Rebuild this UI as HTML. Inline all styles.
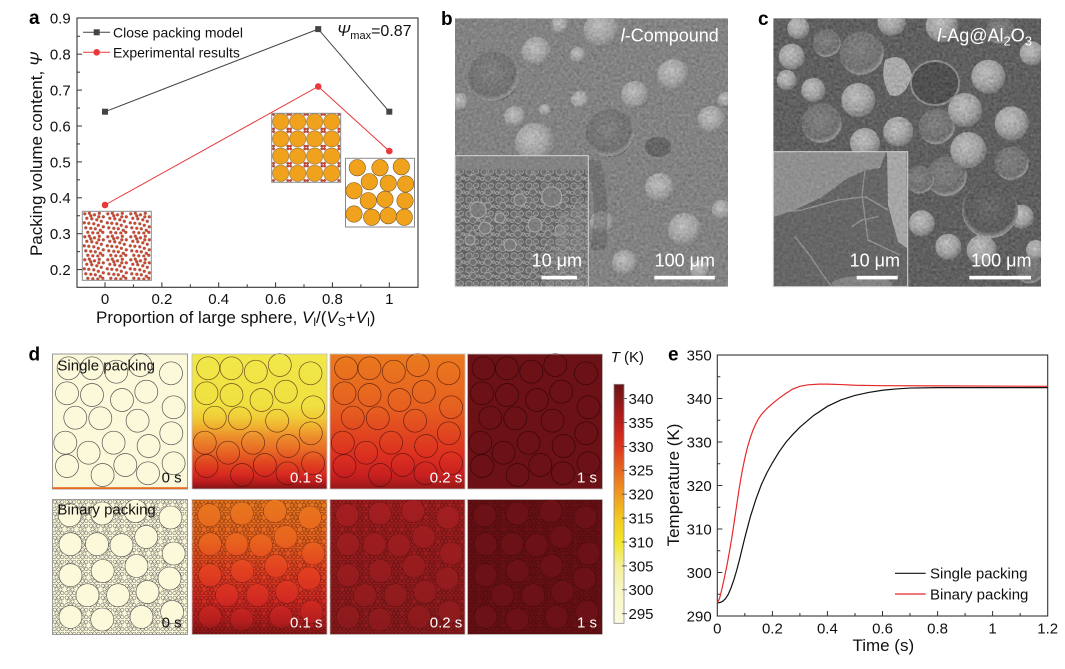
<!DOCTYPE html>
<html><head><meta charset="utf-8">
<style>
html,body{margin:0;padding:0;background:#fff;}
svg{display:block;}
text{font-family:"Liberation Sans",Arial,sans-serif;}
</style></head><body>
<svg width="1065" height="669" viewBox="0 0 1065 669" xmlns="http://www.w3.org/2000/svg">
<defs>
  <pattern id="rnd" patternUnits="userSpaceOnUse" x="82.3" y="211.3" width="23" height="23">
    <g fill="#d9472b" stroke="#7a2a1a" stroke-width="0.4">
      <circle cx="2.5" cy="2.5" r="1.4"/><circle cx="7" cy="1.8" r="1.4"/><circle cx="12.2" cy="3.5" r="1.4"/><circle cx="17" cy="2" r="1.4"/>
      <circle cx="21" cy="5.5" r="1.4"/><circle cx="4.5" cy="7" r="1.4"/><circle cx="9.5" cy="7.5" r="1.4"/><circle cx="14.5" cy="8.5" r="1.4"/>
      <circle cx="19" cy="10" r="1.4"/><circle cx="2" cy="11.5" r="1.4"/><circle cx="6.5" cy="12" r="1.4"/><circle cx="11.5" cy="12.5" r="1.4"/>
      <circle cx="16" cy="14" r="1.4"/><circle cx="21" cy="15.5" r="1.4"/><circle cx="3.5" cy="16.5" r="1.4"/><circle cx="8.5" cy="17" r="1.4"/>
      <circle cx="13" cy="17.5" r="1.4"/><circle cx="18" cy="19" r="1.4"/><circle cx="5.5" cy="21" r="1.4"/><circle cx="10.5" cy="21.5" r="1.4"/>
      <circle cx="15.5" cy="21.8" r="1.4"/><circle cx="20.5" cy="21" r="1.4"/><circle cx="16.5" cy="5.5" r="1.4"/><circle cx="8.5" cy="4.5" r="1.4"/>
    </g>
  </pattern>
  <pattern id="bin" patternUnits="userSpaceOnUse" x="272.2" y="113.1" width="17" height="17.2">
    <circle cx="8.5" cy="8.6" r="8.1" fill="#f1a21d" stroke="#7a5a2a" stroke-width="0.5"/>
    <g fill="#e0381e" stroke="#6a1a10" stroke-width="0.35">
      <circle cx="1.4" cy="1.4" r="1.2"/><circle cx="15.6" cy="1.4" r="1.2"/><circle cx="1.4" cy="15.8" r="1.2"/><circle cx="15.6" cy="15.8" r="1.2"/>
    </g>
  </pattern>

  <g id="sg">
    <circle cx="16.1" cy="14.3" r="11.5"/><circle cx="39.5" cy="14.3" r="11.5"/><circle cx="63.8" cy="17.7" r="11.5"/><circle cx="87.8" cy="11" r="11.5"/><circle cx="118.5" cy="19.3" r="11.5"/>
    <circle cx="14.5" cy="39.3" r="11.5"/><circle cx="39.5" cy="41" r="11.5"/><circle cx="69.5" cy="46" r="11.5"/><circle cx="93.8" cy="37.7" r="11.5"/><circle cx="121.1" cy="53.3" r="11.5"/>
    <circle cx="22.8" cy="63.7" r="11.5"/><circle cx="47.8" cy="64.3" r="11.5"/><circle cx="85.1" cy="66.7" r="11.5"/><circle cx="118.8" cy="79.3" r="11.5"/>
    <circle cx="12.8" cy="88.7" r="11.5"/><circle cx="36.1" cy="98.7" r="11.5"/><circle cx="61.1" cy="88.7" r="11.5"/><circle cx="96.1" cy="92" r="11.5"/>
    <circle cx="14.5" cy="112" r="11.5"/><circle cx="50.1" cy="121" r="11.5"/><circle cx="72.8" cy="111" r="11.5"/><circle cx="95.5" cy="119.3" r="11.5"/><circle cx="121.1" cy="109.3" r="11.5"/>
  </g>
  <g id="bn">
    <circle cx="17.2" cy="15.7" r="11.5"/><circle cx="49.8" cy="14" r="11.5"/><circle cx="83" cy="11.5" r="11.5"/><circle cx="118" cy="18" r="11.5"/>
    <circle cx="18" cy="44.7" r="11.5"/><circle cx="44.5" cy="44.7" r="11.5"/><circle cx="69" cy="45.7" r="11.5"/><circle cx="93.7" cy="37.4" r="11.5"/><circle cx="121.2" cy="54" r="11.5"/>
    <circle cx="18" cy="75.7" r="11.5"/><circle cx="50.2" cy="71.5" r="11.5"/><circle cx="84" cy="66.5" r="11.5"/><circle cx="117" cy="79" r="11.5"/>
    <circle cx="35" cy="95.7" r="11.5"/><circle cx="65.6" cy="95.7" r="11.5"/><circle cx="95" cy="92.4" r="11.5"/>
    <circle cx="18" cy="117.4" r="11.5"/><circle cx="49.7" cy="120" r="11.5"/><circle cx="89" cy="117.4" r="11.5"/><circle cx="119.6" cy="112.4" r="11.5"/>
  </g>
  <pattern id="txD" patternUnits="userSpaceOnUse" width="12" height="12">
    <g fill="none" stroke="#5a5a5a" stroke-width="0.5">
      <circle cx="2.2" cy="2.2" r="1.7"/><circle cx="6" cy="2" r="1.7"/><circle cx="9.8" cy="2.4" r="1.7"/><circle cx="4" cy="5.8" r="1.7"/>
      <circle cx="8" cy="6" r="1.7"/><circle cx="2" cy="9.6" r="1.7"/><circle cx="6" cy="9.8" r="1.7"/><circle cx="9.8" cy="9.6" r="1.7"/>
    </g>
  </pattern>
  <pattern id="txR" patternUnits="userSpaceOnUse" width="12" height="12">
    <g fill="none" stroke="#2a0404" stroke-opacity="0.6" stroke-width="0.5">
      <circle cx="2.2" cy="2.2" r="1.7"/><circle cx="6" cy="2" r="1.7"/><circle cx="9.8" cy="2.4" r="1.7"/><circle cx="4" cy="5.8" r="1.7"/>
      <circle cx="8" cy="6" r="1.7"/><circle cx="2" cy="9.6" r="1.7"/><circle cx="6" cy="9.8" r="1.7"/><circle cx="9.8" cy="9.6" r="1.7"/>
    </g>
  </pattern>

  <linearGradient id="gs01" gradientUnits="userSpaceOnUse" x1="0" y1="0" x2="0" y2="135">
    <stop offset="0" stop-color="#f0e84a"/><stop offset="0.38" stop-color="#f0e040"/><stop offset="0.47" stop-color="#f0cc38"/>
    <stop offset="0.54" stop-color="#f0b030"/><stop offset="0.62" stop-color="#ec8a2c"/><stop offset="0.72" stop-color="#e86824"/>
    <stop offset="0.81" stop-color="#e04420"/><stop offset="0.89" stop-color="#d82a20"/><stop offset="0.95" stop-color="#b81c1c"/><stop offset="1" stop-color="#801414"/>
  </linearGradient>
  <linearGradient id="gs02" gradientUnits="userSpaceOnUse" x1="0" y1="0" x2="0" y2="135">
    <stop offset="0" stop-color="#ea7a1e"/><stop offset="0.4" stop-color="#e66020"/><stop offset="0.6" stop-color="#e04420"/>
    <stop offset="0.75" stop-color="#dc3020"/><stop offset="0.9" stop-color="#c82020"/><stop offset="1" stop-color="#961818"/>
  </linearGradient>
  <linearGradient id="gb01" gradientUnits="userSpaceOnUse" x1="0" y1="0" x2="0" y2="135">
    <stop offset="0" stop-color="#e8781e"/><stop offset="0.3" stop-color="#e8641e"/><stop offset="0.52" stop-color="#e24020"/>
    <stop offset="0.74" stop-color="#d22a22"/><stop offset="0.9" stop-color="#b41e1e"/><stop offset="1" stop-color="#8a1616"/>
  </linearGradient>
  <linearGradient id="gb02" gradientUnits="userSpaceOnUse" x1="0" y1="0" x2="0" y2="135">
    <stop offset="0" stop-color="#a41e20"/><stop offset="1" stop-color="#8a1a1c"/>
  </linearGradient>
  <linearGradient id="gcb" x1="0" y1="0" x2="0" y2="1">
    <stop offset="0" stop-color="#6c1216"/><stop offset="0.06" stop-color="#881818"/><stop offset="0.16" stop-color="#bc1e1e"/>
    <stop offset="0.26" stop-color="#dc3620"/><stop offset="0.36" stop-color="#e86820"/><stop offset="0.46" stop-color="#f09a20"/>
    <stop offset="0.56" stop-color="#f2c822"/><stop offset="0.66" stop-color="#f0e62a"/><stop offset="0.76" stop-color="#f4f09a"/>
    <stop offset="0.86" stop-color="#f8f6c4"/><stop offset="1" stop-color="#fcfade"/>
  </linearGradient>

  <radialGradient id="sL" cx="0.42" cy="0.38" r="0.62">
    <stop offset="0" stop-color="#cacaca"/><stop offset="0.65" stop-color="#a8a8a8"/><stop offset="1" stop-color="#7a7a7a"/>
  </radialGradient>
  <radialGradient id="sM" cx="0.45" cy="0.4" r="0.6">
    <stop offset="0" stop-color="#828282"/><stop offset="0.8" stop-color="#6e6e6e"/><stop offset="0.95" stop-color="#9e9e9e"/><stop offset="1" stop-color="#5e5e5e"/>
  </radialGradient>
  <radialGradient id="sS" cx="0.5" cy="0.45" r="0.55">
    <stop offset="0" stop-color="#666"/><stop offset="0.8" stop-color="#555"/><stop offset="0.95" stop-color="#949494"/><stop offset="1" stop-color="#bababa"/>
  </radialGradient>
  <filter id="nz" x="0" y="0" width="100%" height="100%" color-interpolation-filters="sRGB">
    <feTurbulence type="fractalNoise" baseFrequency="0.35" numOctaves="2" seed="4" result="t"/>
    <feColorMatrix in="t" type="matrix" values="0.33 0.33 0.33 0 0  0.33 0.33 0.33 0 0  0.33 0.33 0.33 0 0  0 0 0 0 1"/>
    <feComponentTransfer>
      <feFuncR type="linear" slope="2" intercept="-0.5"/>
      <feFuncG type="linear" slope="2" intercept="-0.5"/>
      <feFuncB type="linear" slope="2" intercept="-0.5"/>
    </feComponentTransfer>
  </filter>
  <pattern id="cell" patternUnits="userSpaceOnUse" width="15" height="14">
    <rect width="15" height="14" fill="#626262"/>
    <g fill="#707070" stroke="#a4a4a4" stroke-width="0.9">
      <circle cx="4" cy="4" r="3.2"/><circle cx="11" cy="3.5" r="2.5"/><circle cx="8" cy="10" r="3.5"/><circle cx="2" cy="11" r="1.6"/><circle cx="13.5" cy="10" r="1.3"/>
    </g>
  </pattern>
  <clipPath id="cpB"><rect x="455" y="18.3" width="273" height="268.4"/></clipPath>
  <clipPath id="cpC"><rect x="773.3" y="18.3" width="267.7" height="268.4"/></clipPath>
  <clipPath id="cpBi"><rect x="455" y="155.7" width="133.3" height="131"/></clipPath>
  <clipPath id="cpCi"><rect x="773.3" y="151.7" width="134.4" height="135"/></clipPath>
</defs>

<rect width="1065" height="669" fill="#fff"/>

<!-- ================= PANEL A ================= -->
<text x="29" y="24" font-size="19" font-weight="bold">a</text>
<rect x="82.3" y="211.3" width="69" height="69" fill="#fff"/>
<rect x="82.3" y="211.3" width="69" height="69" fill="url(#rnd)" stroke="#8a8a8a" stroke-width="1"/>
<rect x="271.7" y="113.3" width="69" height="69" fill="#fff"/>
<rect x="271.7" y="113.3" width="69" height="69" fill="url(#bin)" stroke="#8a8a8a" stroke-width="1"/>
<rect x="345.5" y="158.3" width="69" height="68.7" fill="#fff" stroke="#8a8a8a" stroke-width="1"/>
<g fill="#f1a21d" stroke="#7a5a2a" stroke-width="0.6">
  <circle cx="357.3" cy="167.7" r="8.2"/><circle cx="380" cy="167.7" r="8.2"/><circle cx="401.3" cy="166.7" r="8.2"/>
  <circle cx="369.3" cy="181.7" r="8.2"/><circle cx="388.3" cy="183.3" r="8.2"/><circle cx="405.7" cy="184" r="8.2"/>
  <circle cx="354" cy="190.7" r="8.2"/><circle cx="368.3" cy="200.7" r="8.2"/><circle cx="385" cy="199.3" r="8.2"/><circle cx="405" cy="200.7" r="8.2"/>
  <circle cx="354" cy="214" r="8.2"/><circle cx="371.7" cy="217.3" r="8.2"/><circle cx="388.3" cy="215.7" r="8.2"/><circle cx="404.3" cy="217.3" r="8.2"/>
</g>
<rect x="77" y="18" width="341" height="269.3" fill="none" stroke="#333" stroke-width="1.1"/>
<g stroke="#333" stroke-width="1">
  <line x1="77" y1="269.6" x2="82" y2="269.6"/><line x1="77" y1="233.7" x2="82" y2="233.7"/><line x1="77" y1="197.8" x2="82" y2="197.8"/>
  <line x1="77" y1="161.9" x2="82" y2="161.9"/><line x1="77" y1="126" x2="82" y2="126"/><line x1="77" y1="90.1" x2="82" y2="90.1"/>
  <line x1="77" y1="54.2" x2="82" y2="54.2"/>
  <line x1="77" y1="251.65" x2="80" y2="251.65"/><line x1="77" y1="215.75" x2="80" y2="215.75"/><line x1="77" y1="179.85" x2="80" y2="179.85"/>
  <line x1="77" y1="143.95" x2="80" y2="143.95"/><line x1="77" y1="108.05" x2="80" y2="108.05"/><line x1="77" y1="72.15" x2="80" y2="72.15"/>
  <line x1="77" y1="36.25" x2="80" y2="36.25"/>
  <line x1="105" y1="287.3" x2="105" y2="282.3"/><line x1="161.9" y1="287.3" x2="161.9" y2="282.3"/><line x1="218.7" y1="287.3" x2="218.7" y2="282.3"/>
  <line x1="275.6" y1="287.3" x2="275.6" y2="282.3"/><line x1="332.4" y1="287.3" x2="332.4" y2="282.3"/><line x1="389.3" y1="287.3" x2="389.3" y2="282.3"/>
  <line x1="133.4" y1="287.3" x2="133.4" y2="284.3"/><line x1="190.3" y1="287.3" x2="190.3" y2="284.3"/><line x1="247.2" y1="287.3" x2="247.2" y2="284.3"/>
  <line x1="304" y1="287.3" x2="304" y2="284.3"/><line x1="360.9" y1="287.3" x2="360.9" y2="284.3"/>
</g>
<g font-size="15" fill="#111" text-anchor="end">
  <text x="70.7" y="23.7">0.9</text><text x="70.7" y="59.6">0.8</text><text x="70.7" y="95.5">0.7</text><text x="70.7" y="131.4">0.6</text>
  <text x="70.7" y="167.3">0.5</text><text x="70.7" y="203.2">0.4</text><text x="70.7" y="239.1">0.3</text><text x="70.7" y="275">0.2</text>
</g>
<g font-size="15" fill="#111" text-anchor="middle">
  <text x="105" y="304">0</text><text x="161.9" y="304">0.2</text><text x="218.7" y="304">0.4</text><text x="275.6" y="304">0.6</text>
  <text x="332.4" y="304">0.8</text><text x="389.3" y="304">1</text>
</g>
<text transform="translate(42,154) rotate(-90)" text-anchor="middle" font-size="17" fill="#111">Packing volume content, <tspan font-style="italic">Ψ</tspan></text>
<text x="96" y="323" font-size="17" fill="#111">Proportion of large sphere, <tspan font-style="italic">V</tspan><tspan font-size="12" dy="3">l</tspan><tspan dy="-3">/(</tspan><tspan font-style="italic">V</tspan><tspan font-size="12" dy="3">S</tspan><tspan dy="-3">+</tspan><tspan font-style="italic">V</tspan><tspan font-size="12" dy="3">l</tspan><tspan dy="-3">)</tspan></text>
<polyline points="105,111.7 318.2,29.1 389.3,111.7" fill="none" stroke="#444" stroke-width="1"/>
<polyline points="105,205 318.2,86.5 389.3,151.1" fill="none" stroke="#e8383a" stroke-width="1"/>
<g fill="#444"><rect x="102" y="108.7" width="6" height="6"/><rect x="315.2" y="26.1" width="6" height="6"/><rect x="386.3" y="108.7" width="6" height="6"/></g>
<g fill="#e8383a"><circle cx="105" cy="205" r="3.3"/><circle cx="318.2" cy="86.5" r="3.3"/><circle cx="389.3" cy="151.1" r="3.3"/></g>
<line x1="83" y1="32.3" x2="110" y2="32.3" stroke="#444" stroke-width="1"/><rect x="93.7" y="29.3" width="6" height="6" fill="#444"/>
<text x="113" y="37.3" font-size="14" fill="#111">Close packing model</text>
<line x1="83" y1="52.3" x2="110" y2="52.3" stroke="#e8383a" stroke-width="1"/><circle cx="96.7" cy="52.3" r="3.3" fill="#e8383a"/>
<text x="113" y="57.3" font-size="14" fill="#111">Experimental results</text>
<text x="337" y="36" font-size="16" fill="#111"><tspan font-style="italic">Ψ</tspan><tspan font-size="11" dy="3">max</tspan><tspan dy="-3">=0.87</tspan></text>

<!-- ================= PANEL B ================= -->
<text x="441" y="25" font-size="19" font-weight="bold">b</text>
<g clip-path="url(#cpB)">
  <rect x="455" y="18.3" width="273" height="268.4" fill="#848484"/>
  <g fill="url(#sL)">
    <circle cx="536.7" cy="51.7" r="15"/><circle cx="601.7" cy="30" r="18"/><circle cx="560" cy="25" r="9"/><circle cx="578" cy="55" r="8"/>
    <circle cx="673.3" cy="75" r="16"/><circle cx="635" cy="95" r="14"/><circle cx="580" cy="100" r="9"/><circle cx="711.7" cy="120" r="14"/>
    <circle cx="535" cy="143" r="20"/><circle cx="515" cy="117" r="11"/><circle cx="660" cy="188" r="15"/><circle cx="685" cy="230" r="17"/>
    <circle cx="721.7" cy="210" r="10"/><circle cx="601.7" cy="223" r="12"/><circle cx="625" cy="263" r="13"/><circle cx="460" cy="102" r="9"/>
    <circle cx="545" cy="110" r="6"/><circle cx="726" cy="100" r="8"/><circle cx="700" cy="270" r="10"/>
  </g>
  <g fill="url(#sM)"><circle cx="493.3" cy="76.7" r="25"/><circle cx="610" cy="133" r="24"/></g>
  <ellipse cx="658" cy="147" rx="13" ry="10" fill="#4a4a4a" opacity="0.6"/>
  <path d="M585,160 Q600,200 590,250 L605,250 Q612,200 600,160 Z" fill="#5a5a5a" opacity="0.5"/>
  <rect x="455" y="18.3" width="273" height="268.4" fill="#000" filter="url(#nz)" opacity="0.18"/>
</g>
<g clip-path="url(#cpBi)">
  <rect x="455" y="155.7" width="133.3" height="131" fill="url(#cell)"/>
  <rect x="455" y="155.7" width="133.3" height="14" fill="#858585"/>
  <g fill="#7e7e7e" stroke="#b0b0b0" stroke-width="1">
    <circle cx="551.7" cy="196.7" r="10"/><circle cx="478" cy="210" r="8"/><circle cx="485" cy="228" r="6"/><circle cx="500" cy="218" r="5"/>
    <circle cx="520" cy="200" r="6"/><circle cx="535" cy="225" r="7"/><circle cx="470" cy="240" r="5"/><circle cx="510" cy="245" r="6"/><circle cx="560" cy="230" r="5"/>
  </g>
  <path d="M560,215 L588,200 L588,286 L545,286 Z" fill="#9a9a9a" opacity="0.3"/>
  <rect x="455" y="155.7" width="133.3" height="131" fill="#000" filter="url(#nz)" opacity="0.12"/>
</g>
<rect x="455" y="155.7" width="133.3" height="131" fill="none" stroke="#d8d8d8" stroke-width="1"/>
<text x="718.8" y="41.7" font-size="18" fill="#fff" text-anchor="end"><tspan font-style="italic">l</tspan>-Compound</text>
<text x="582" y="266.7" font-size="18" fill="#fff" text-anchor="end">10 μm</text>
<rect x="541.5" y="275.8" width="35.5" height="3.6" fill="#fff"/>
<text x="715" y="266.7" font-size="18" fill="#fff" text-anchor="end">100 μm</text>
<rect x="654.3" y="275.8" width="60.5" height="3.6" fill="#fff"/>

<!-- ================= PANEL C ================= -->
<text x="758" y="25" font-size="19" font-weight="bold">c</text>
<g clip-path="url(#cpC)">
  <rect x="773.3" y="18.3" width="267.7" height="268.4" fill="#595959"/>
  <g fill="url(#sM)">
    <circle cx="861.7" cy="53.3" r="22"/><circle cx="826.7" cy="43.3" r="14"/><circle cx="821.7" cy="123.3" r="20"/><circle cx="936.7" cy="126.7" r="18"/>
    <circle cx="946.7" cy="176.7" r="20"/><circle cx="1011.7" cy="163.3" r="17"/><circle cx="920" cy="180" r="14"/><circle cx="1000" cy="30" r="14"/>
    <circle cx="1030" cy="270" r="14"/>
  </g>
  <g fill="url(#sL)">
    <circle cx="791.7" cy="56.7" r="13"/><circle cx="798.3" cy="28" r="11"/><circle cx="891.7" cy="22" r="14"/><circle cx="858.3" cy="100" r="17"/>
    <circle cx="813.3" cy="90" r="12"/><circle cx="898.3" cy="131.7" r="15"/><circle cx="865" cy="143" r="15"/><circle cx="965" cy="110" r="17"/>
    <circle cx="1011.7" cy="123.3" r="17"/><circle cx="968.3" cy="150" r="18"/><circle cx="988.3" cy="76.7" r="17"/><circle cx="1031.7" cy="53.3" r="12"/>
    <circle cx="941.7" cy="26" r="16"/><circle cx="948.3" cy="246.7" r="13"/><circle cx="981.7" cy="250" r="15"/><circle cx="1021.7" cy="216.7" r="12"/>
    <circle cx="921.7" cy="223.3" r="13"/><circle cx="786.7" cy="80" r="10"/><circle cx="1036" cy="250" r="10"/>
  </g>
  <ellipse cx="935" cy="83" rx="24" ry="22" fill="#474747" stroke="#8e8e8e" stroke-width="2"/>
  <path d="M885,60 Q905,50 912,75 Q905,100 890,95 Q880,80 885,60 Z" fill="#b4b4b4"/>
  <circle cx="990" cy="210" r="28" fill="url(#sS)"/>
  <rect x="773.3" y="18.3" width="267.7" height="268.4" fill="#000" filter="url(#nz)" opacity="0.18"/>
</g>
<g clip-path="url(#cpCi)">
  <rect x="773.3" y="151.7" width="134.4" height="135" fill="#646464"/>
  <polygon points="773.3,151.7 886,151.7 880,168 866,170 848,178 822,197 795,210 773.3,217" fill="#929292"/>
  <polygon points="887,151.7 906.7,151.7 907,248 898,242 888,205" fill="#acacac"/>
  <ellipse cx="862" cy="284" rx="30" ry="8" fill="#858585"/>
  <g fill="none" stroke="#969696" stroke-width="1.3">
    <polyline points="775,213 801.7,210 838.3,200 865,196.7 888.3,210"/>
    <polyline points="795,236.7 808,253 821.7,273 831.7,286.7"/>
    <polyline points="851.7,226.7 861.7,220 878.3,216.7"/>
    <polyline points="865,170 862,195 868,240 900,255"/>
  </g>
  <rect x="773.3" y="151.7" width="134.4" height="135" fill="#000" filter="url(#nz)" opacity="0.12"/>
</g>
<rect x="773.3" y="151.7" width="134.4" height="135" fill="none" stroke="#d8d8d8" stroke-width="1"/>
<text x="1032" y="41.7" font-size="18" fill="#fff" text-anchor="end"><tspan font-style="italic">l</tspan>-Ag@Al<tspan font-size="13" dy="4">2</tspan><tspan dy="-4">O</tspan><tspan font-size="13" dy="4">3</tspan></text>
<text x="900" y="266.7" font-size="18" fill="#fff" text-anchor="end">10 μm</text>
<rect x="856.7" y="275.8" width="41" height="3.6" fill="#fff"/>
<text x="1031.5" y="266.7" font-size="18" fill="#fff" text-anchor="end">100 μm</text>
<rect x="969.3" y="275.8" width="61.7" height="3.6" fill="#fff"/>

<!-- ================= PANEL D ================= -->
<text x="28.5" y="360.7" font-size="19" font-weight="bold">d</text>
<g transform="translate(52.5,354)">
  <rect width="135" height="135" fill="#fbf9da" stroke="#9a9a9a" stroke-width="1"/>
  <use href="#sg" fill="none" stroke="#555" stroke-width="0.7"/>
  <rect x="0" y="133.2" width="135" height="1.8" fill="#e86a20"/>
</g>
<g transform="translate(192,354)">
  <rect width="135" height="135" fill="url(#gs01)"/>
  <use href="#sg" fill="none" stroke="#3a1010" stroke-opacity="0.7" stroke-width="0.7"/>
  <rect width="135" height="135" fill="none" stroke="#c0c0c0" stroke-width="0.8"/>
</g>
<g transform="translate(330,354)">
  <rect width="135" height="135" fill="url(#gs02)"/>
  <use href="#sg" fill="none" stroke="#3a0a0a" stroke-opacity="0.7" stroke-width="0.7"/>
  <rect width="135" height="135" fill="none" stroke="#c0c0c0" stroke-width="0.8"/>
</g>
<g transform="translate(467.5,354)">
  <rect width="135" height="135" fill="#6c1116"/>
  <use href="#sg" fill="none" stroke="#2a0406" stroke-opacity="0.8" stroke-width="0.7"/>
  <rect width="135" height="135" fill="none" stroke="#c0c0c0" stroke-width="0.8"/>
</g>
<g transform="translate(52.5,499.5)">
  <rect width="135" height="135" fill="#fbf9da"/>
  <rect width="135" height="135" fill="url(#txD)"/>
  <use href="#bn" fill="#fbf9da" stroke="#555" stroke-width="0.6"/>
  <rect width="135" height="135" fill="none" stroke="#9a9a9a" stroke-width="1"/>
</g>
<g transform="translate(192,499.5)">
  <rect width="135" height="135" fill="url(#gb01)"/>
  <rect width="135" height="135" fill="url(#txR)"/>
  <use href="#bn" fill="url(#gb01)" stroke="#3a0a0a" stroke-opacity="0.5" stroke-width="0.5"/>
  <rect width="135" height="135" fill="none" stroke="#c0c0c0" stroke-width="0.8"/>
</g>
<g transform="translate(330,499.5)">
  <rect width="135" height="135" fill="url(#gb02)"/>
  <rect width="135" height="135" fill="url(#txR)"/>
  <use href="#bn" fill="url(#gb02)" stroke="#3a0a0a" stroke-opacity="0.5" stroke-width="0.5"/>
  <rect width="135" height="135" fill="none" stroke="#c0c0c0" stroke-width="0.8"/>
</g>
<g transform="translate(467.5,499.5)">
  <rect width="135" height="135" fill="#6a1014"/>
  <rect width="135" height="135" fill="url(#txR)"/>
  <use href="#bn" fill="#6c1116" stroke="#2a0406" stroke-opacity="0.5" stroke-width="0.5"/>
  <rect width="135" height="135" fill="none" stroke="#c0c0c0" stroke-width="0.8"/>
</g>
<g font-size="15">
  <text x="57.4" y="370.3" fill="#111">Single packing</text>
  <text x="57.4" y="514.6" fill="#111">Binary packing</text>
  <text x="181.6" y="482.6" fill="#111" text-anchor="end">0 s</text>
  <text x="322.5" y="482.6" fill="#fff" text-anchor="end">0.1 s</text>
  <text x="462.3" y="482.6" fill="#fff" text-anchor="end">0.2 s</text>
  <text x="597" y="482.6" fill="#fff" text-anchor="end">1 s</text>
  <text x="181.6" y="627.6" fill="#111" text-anchor="end">0 s</text>
  <text x="322.5" y="627.6" fill="#fff" text-anchor="end">0.1 s</text>
  <text x="462.3" y="627.6" fill="#fff" text-anchor="end">0.2 s</text>
  <text x="597" y="627.6" fill="#fff" text-anchor="end">1 s</text>
</g>
<text x="610.7" y="362" font-size="15" fill="#111"><tspan font-style="italic">T</tspan> (K)</text>
<rect x="614" y="384.3" width="10" height="239" fill="url(#gcb)" stroke="#8a8a8a" stroke-width="0.8"/>
<g stroke="#444" stroke-width="0.8">
  <line x1="622" y1="398.6" x2="627" y2="398.6"/><line x1="622" y1="422.5" x2="627" y2="422.5"/><line x1="622" y1="446.4" x2="627" y2="446.4"/>
  <line x1="622" y1="470.3" x2="627" y2="470.3"/><line x1="622" y1="494.2" x2="627" y2="494.2"/><line x1="622" y1="518.1" x2="627" y2="518.1"/>
  <line x1="622" y1="542" x2="627" y2="542"/><line x1="622" y1="565.9" x2="627" y2="565.9"/><line x1="622" y1="589.8" x2="627" y2="589.8"/>
  <line x1="622" y1="613.7" x2="627" y2="613.7"/>
</g>
<g font-size="15" fill="#111">
  <text x="628.5" y="404">340</text><text x="628.5" y="427.9">335</text><text x="628.5" y="451.8">330</text><text x="628.5" y="475.7">325</text>
  <text x="628.5" y="499.6">320</text><text x="628.5" y="523.5">315</text><text x="628.5" y="547.4">310</text><text x="628.5" y="571.3">305</text>
  <text x="628.5" y="595.2">300</text><text x="628.5" y="619.1">295</text>
</g>

<!-- ================= PANEL E ================= -->
<text x="668" y="360.5" font-size="19" font-weight="bold">e</text>
<rect x="717.3" y="355" width="330.4" height="261" fill="none" stroke="#333" stroke-width="1.1"/>
<g stroke="#333" stroke-width="1">
  <line x1="717.3" y1="572.5" x2="722.3" y2="572.5"/><line x1="717.3" y1="529" x2="722.3" y2="529"/><line x1="717.3" y1="485.5" x2="722.3" y2="485.5"/>
  <line x1="717.3" y1="442" x2="722.3" y2="442"/><line x1="717.3" y1="398.5" x2="722.3" y2="398.5"/>
  <line x1="717.3" y1="594.25" x2="720.3" y2="594.25"/><line x1="717.3" y1="550.75" x2="720.3" y2="550.75"/><line x1="717.3" y1="507.25" x2="720.3" y2="507.25"/>
  <line x1="717.3" y1="463.75" x2="720.3" y2="463.75"/><line x1="717.3" y1="420.25" x2="720.3" y2="420.25"/><line x1="717.3" y1="376.75" x2="720.3" y2="376.75"/>
  <line x1="772.4" y1="616" x2="772.4" y2="611"/><line x1="827.4" y1="616" x2="827.4" y2="611"/><line x1="882.5" y1="616" x2="882.5" y2="611"/>
  <line x1="937.6" y1="616" x2="937.6" y2="611"/><line x1="992.6" y1="616" x2="992.6" y2="611"/>
  <line x1="744.8" y1="616" x2="744.8" y2="613"/><line x1="799.9" y1="616" x2="799.9" y2="613"/><line x1="855" y1="616" x2="855" y2="613"/>
  <line x1="910" y1="616" x2="910" y2="613"/><line x1="965.1" y1="616" x2="965.1" y2="613"/><line x1="1020.2" y1="616" x2="1020.2" y2="613"/>
</g>
<g font-size="15" fill="#111" text-anchor="end">
  <text x="711.7" y="360.3">350</text><text x="711.7" y="403.8">340</text><text x="711.7" y="447.3">330</text><text x="711.7" y="490.8">320</text>
  <text x="711.7" y="534.3">310</text><text x="711.7" y="577.8">300</text><text x="711.7" y="621.3">290</text>
</g>
<g font-size="15" fill="#111" text-anchor="middle">
  <text x="717.3" y="633.5">0</text><text x="772.4" y="633.5">0.2</text><text x="827.4" y="633.5">0.4</text><text x="882.5" y="633.5">0.6</text>
  <text x="937.6" y="633.5">0.8</text><text x="992.6" y="633.5">1</text><text x="1047.7" y="633.5">1.2</text>
</g>
<text x="883.3" y="651" font-size="17" fill="#111" text-anchor="middle">Time (s)</text>
<text transform="translate(679,485) rotate(-90)" font-size="17" fill="#111" text-anchor="middle">Temperature (K)</text>
<g transform="translate(717.3,616) scale(275.33,-4.35) translate(0,-290)">
  <polyline vector-effect="non-scaling-stroke" fill="none" stroke="#111" stroke-width="1.2"
    points="0,293 0.01,293.1 0.02,293.4 0.03,294 0.04,295 0.05,296.5 0.06,298.3 0.07,300.4 0.08,302.8 0.09,305.4 0.1,308 0.12,312.8 0.14,316.8 0.16,320.2 0.18,322.9 0.2,325.2 0.225,327.8 0.25,330 0.275,331.8 0.3,333.4 0.35,336.1 0.4,338.2 0.45,339.7 0.5,340.7 0.55,341.4 0.6,341.9 0.65,342.2 0.7,342.4 0.8,342.5 1.2,342.5"/>
  <polyline vector-effect="non-scaling-stroke" fill="none" stroke="#e8282a" stroke-width="1.2"
    points="0,293 0.008,294 0.016,296 0.025,298.6 0.034,301.3 0.043,304.4 0.052,307.7 0.06,311 0.07,315.3 0.08,319.5 0.09,323.2 0.1,326.3 0.11,328.9 0.12,331 0.13,332.8 0.14,334.2 0.15,335.4 0.16,336.3 0.18,337.7 0.2,338.8 0.225,340.1 0.25,341.2 0.275,342.2 0.3,342.8 0.33,343.15 0.37,343.3 0.4,343.3 0.45,343.2 0.5,343.05 0.6,342.95 0.8,342.9 1.2,342.8"/>
</g>
<line x1="895" y1="573.3" x2="925.7" y2="573.3" stroke="#111" stroke-width="1.2"/>
<text x="930" y="578.6" font-size="15" fill="#111">Single packing</text>
<line x1="895" y1="594" x2="925.7" y2="594" stroke="#e8282a" stroke-width="1.2"/>
<text x="930" y="599.3" font-size="15" fill="#111">Binary packing</text>
</svg>
</body></html>
